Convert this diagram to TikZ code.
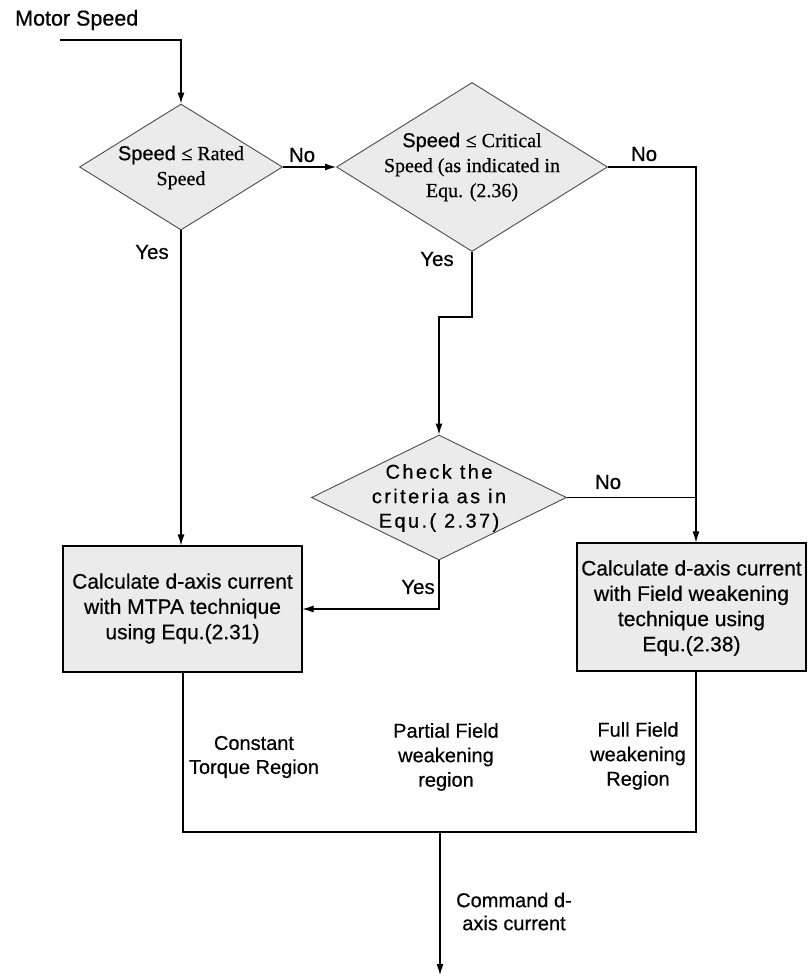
\documentclass[tikz,border=0pt]{standalone}
\usepackage{fontspec}
\setmainfont{Liberation Sans}[FakeBold=0.5]
\newfontfamily\seriffont{Liberation Serif}[FakeBold=0.5]
\usetikzlibrary{shapes.geometric,arrows.meta}

\begin{document}
\begin{tikzpicture}[x=1pt,y=-1pt,
  line/.style={line width=1.1pt,draw=black},
  arr/.style={line,-{Latex[length=11pt,width=7pt]}},
  decision/.style={diamond,draw=black!70,line width=0.9pt,fill=black!8,inner sep=0pt},
  procbox/.style={rectangle,draw=black,line width=1.1pt,fill=black!8,inner sep=0pt},
  lbl/.style={inner sep=0pt,font=\fontsize{20.5}{25}\selectfont},
  blocktext/.style={inner sep=0pt,align=center,font=\fontsize{20}{25}\selectfont},
  boxtext/.style={inner sep=0pt,align=center,font=\fontsize{21}{25.3}\selectfont},
  spaced/.style={inner sep=0pt,align=center,font=\fontsize{20}{24.5}\selectfont\addfontfeature{LetterSpace=12}}]

\useasboundingbox (0,0) rectangle (807,976);

% input
\node[lbl,anchor=west,font=\fontsize{21.5}{25}\selectfont] (motor) at (15,20) {Motor Speed};
\coordinate (start) at (60,40);

% decisions
\node[decision,minimum width=203pt,minimum height=126pt] (d1) at (181,167) {};
\node[blocktext] (d1t) at (181,167.5) {Speed {\seriffont ≤ Rated}\\{\seriffont Speed}};

\node[decision,minimum width=271pt,minimum height=169pt] (d2) at (472,167) {};
\node[blocktext] (d2t) at (472,167) {Speed {\seriffont ≤ Critical}\\{\seriffont Speed (as indicated in}\\{\seriffont Equ. (2.36)}};

\node[decision,minimum width=255pt,minimum height=125pt] (d3) at (439,497.5) {};
\node[spaced] (d3t) at (439,498) {Check the\\criteria as in\\Equ.( 2.37)};

% processing blocks
\node[procbox,minimum width=239pt,minimum height=126pt] (box1) at (182.5,609) {};
\node[boxtext] (box1t) at (182.5,608.5) {Calculate d-axis current\\with MTPA technique\\using Equ.(2.31)};

\node[procbox,minimum width=229pt,minimum height=128pt] (box2) at (691.5,607) {};
\node[boxtext] (box2t) at (691.5,608) {Calculate d-axis current\\with Field weakening\\technique using\\Equ.(2.38)};

% branch labels
\node[lbl] (no1) at (302,155) {No};
\node[lbl] (yes1) at (152,252) {Yes};
\node[lbl] (no2) at (644,154) {No};
\node[lbl] (yes2) at (437,259) {Yes};
\node[lbl] (no3) at (608,482) {No};
\node[lbl] (yes3) at (418,587) {Yes};

% connectors
\draw[arr] (start) -| (d1.north);
\draw[arr] (d1.east) -- (d2.west);
\draw[arr] (d1.south) -- (d1.south |- box1.north);

\coordinate (c2) at (696,167);
\draw[arr] (d2.east) -- (c2) -- (c2 |- box2.north);

\coordinate (k2) at (472,317);
\draw[arr] (d2.south) -- (k2) -| (d3.north);

\draw[line] (d3.east) -- (d3.east -| c2);
\draw[arr] (d3.south) |- (box1.east);

% merge of the three regions
\coordinate (mL) at (183,832);
\coordinate (mR) at (696,832);
\draw[line] (box1.south -| mL) -- (mL) -- (mR) -- (mR |- box2.south);

\coordinate (out) at (440,832);
\coordinate (cmd) at (440,975);
\draw[arr] (out) -- (cmd);

% region labels
\node[blocktext,font=\fontsize{20}{24}\selectfont] (r1) at (254,757) {Constant\\Torque Region};
\node[blocktext,font=\fontsize{20}{24.5}\selectfont] (r2) at (446,757) {Partial Field\\weakening\\region};
\node[blocktext,font=\fontsize{20}{24.5}\selectfont] (r3) at (638,756) {Full Field\\weakening\\Region};
\node[blocktext,font=\fontsize{20}{23}\selectfont] (r4) at (514,911.5) {Command d-\\axis current};

\end{tikzpicture}
\end{document}
